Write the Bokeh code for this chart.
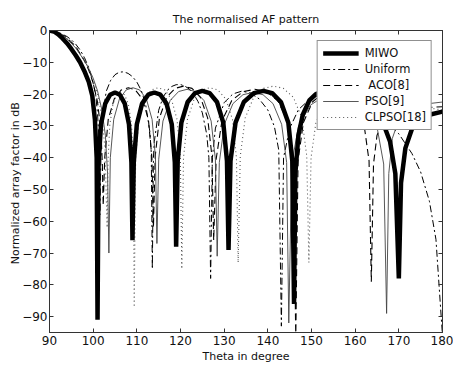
from bokeh.plotting import figure
from bokeh.models import (LinearAxis, Legend, LegendItem, FixedTicker, Range1d)
from bokeh.embed import file_html
from bokeh.resources import INLINE

# ---------------- data ----------------
x_ticks = [90, 100, 110, 120, 130, 140, 150, 160, 170, 180]
y_ticks = [0, -10, -20, -30, -40, -50, -60, -70, -80, -90]

miwo_theta = [90, 91, 92, 93, 94, 95, 96, 97, 98, 99, 99.8, 100.4, 100.8, 101,
              101.24, 101.8, 102.76, 103.88, 105, 106.12, 107.24, 108.2, 108.76, 109,
              109.3, 110, 111.2, 112.6, 114, 115.4, 116.8, 118, 118.7, 119,
              119.36, 120.2, 121.64, 123.32, 125, 126.68, 128.36, 129.8, 130.64, 131,
              131.45, 132.6, 134.5, 136.8, 139, 141, 143, 144.7, 145.6, 146,
              146.3, 147, 148, 149.5, 151, 153, 156, 159, 162, 164.5, 166.5, 168, 169.2, 170,
              170.5, 171.5, 173, 175, 177, 180]
miwo_db = [0, -0.3, -1.2, -2.5, -4, -5.8, -7.8, -10, -12.8, -16.2, -20.5, -28, -40, -91,
           -41.5, -29.5, -23, -20.2, -19.5, -20.2, -23, -29.5, -41.5, -66,
           -41.5, -29.5, -23, -20.2, -19.5, -20.2, -23, -29.5, -41.5, -68,
           -41, -29, -22.5, -19.7, -19, -19.7, -22.5, -29, -41, -69,
           -41, -29, -22.5, -19.7, -19, -19.7, -22.5, -29, -41, -86,
           -45, -33, -26.5, -22, -20, -19, -19.3, -20.5, -22.5, -25.5, -29.5, -35, -45, -78,
           -48, -37, -31, -28, -26.5, -25.5]

uniform_theta = [90, 92, 94, 95, 96, 97, 98, 99, 100, 100.6, 101, 101.3, 101.54,
                 101.8, 102, 103, 104, 105, 106, 107, 108, 109, 110, 111, 112, 113, 113.3, 113.55,
                 113.8, 114, 115, 116, 117, 118, 119, 120, 121, 122, 123, 124, 125, 126, 126.5, 126.9,
                 127.3, 128, 130, 132, 134, 136, 138, 140, 141.5, 142.5, 143.1,
                 143.6, 145, 147, 150, 154, 157, 160, 165, 170, 173, 175, 177, 178.5, 179.5, 180]
uniform_db = [0, -0.5, -1.9, -2.9, -4.3, -6.1, -8.5, -11.7, -16.5, -20.5, -26.2, -33.5, -58,
              -38, -28.3, -19.1, -15.7, -13.9, -13.1, -13, -13.5, -14.5, -16.2, -18.8, -23.1, -32, -38.4, -75,
              -40, -35, -25.1, -21, -18.8, -17.6, -17.05, -17, -17.5, -18.4, -20, -22.3, -25.9, -32.6, -40, -78,
              -40, -30.7, -22.7, -19.95, -19.1, -19.6, -21.5, -25, -30.2, -37.6, -93,
              -40, -30.8, -24.9, -21.1, -19.9, -20.4, -21.8, -25.8, -32.5, -38.7, -44.5, -53.7, -65.7, -86, -96]

aco_theta = [90, 92, 94, 96, 98, 99, 100, 101, 101.8, 102.1, 102.3,
             102.65, 103.45, 104.83, 106.44, 108.05, 109.66, 111.27, 112.65, 113.45, 113.8,
             114.21, 115.18, 116.84, 118.77, 120.7, 122.63, 124.56, 126.22, 127.19, 127.6,
             128.16, 129.48, 131.74, 134.37, 137, 139.63, 142.26, 144.52, 145.84, 146.4,
             146.92, 148.13, 150.21, 152.63, 155.05, 157.47, 159.89, 161.97, 163.18, 163.7,
             164.2, 165, 166.5, 168.5, 171, 175, 180]
aco_db = [0, -0.6, -2.3, -5, -9.5, -12.5, -16.5, -22.5, -32, -42, -55,
          -40, -28, -21.5, -18.7, -18, -18.7, -21.5, -28, -40, -62,
          -39.5, -27.5, -21, -18.2, -17.5, -18.2, -21, -27.5, -39.5, -66,
          -40.5, -28.5, -22, -19.2, -18.5, -19.2, -22, -28.5, -40.5, -97,
          -41, -29, -22.5, -19.7, -19, -19.7, -22.5, -29, -41, -79,
          -42, -33, -28, -26, -25, -24.3, -24]

pso_theta = [90, 92, 94, 96, 98, 99, 100, 101, 102, 102.8, 103.3, 103.6,
             103.93, 104.7, 106.02, 107.56, 109.1, 110.64, 112.18, 113.5, 114.27, 114.6,
             115.01, 115.98, 117.64, 119.57, 121.5, 123.43, 125.36, 127.02, 127.99, 128.4,
             128.89, 130.04, 132.01, 134.3, 136.6, 138.9, 141.19, 143.16, 144.31, 144.8,
             145.47, 147.04, 149.73, 152.86, 156, 159.14, 162.27, 164.96, 166.53, 167.2,
             167.7, 168.5, 170, 172, 175, 180]
pso_db = [0, -0.7, -2.6, -5.5, -9.5, -12, -15, -19, -25, -33, -45, -70,
          -40, -28, -21.5, -18.7, -18, -18.7, -21.5, -28, -40, -67,
          -40.5, -28.5, -22, -19.2, -18.5, -19.2, -22, -28.5, -40.5, -71,
          -41.5, -29.5, -23, -20.2, -19.5, -20.2, -23, -29.5, -41.5, -92,
          -42, -30, -23.5, -20.7, -20, -20.7, -23.5, -30, -42, -89,
          -45, -34, -28, -25, -23.3, -22.5]

clpso_theta = [90, 92, 94, 96, 98, 99, 100, 101, 102, 102.7, 103.2,
               103.39, 103.82, 104.56, 105.43, 106.3, 107.17, 108.04, 108.78, 109.21, 109.4,
               109.73, 110.49, 111.8, 113.32, 114.85, 116.38, 117.9, 119.21, 119.97, 120.3,
               120.69, 121.59, 123.14, 124.94, 126.75, 128.56, 130.36, 131.91, 132.81, 133.2,
               133.69, 134.82, 136.76, 139.03, 141.3, 143.57, 145.84, 147.78, 148.91, 149.4,
               149.9, 151, 153, 156, 160, 165, 170, 175, 180]
clpso_db = [0, -0.6, -2.4, -5.2, -9.3, -12, -15.5, -20, -27, -37, -62,
            -41.5, -29.5, -23, -20.2, -19.5, -20.2, -23, -29.5, -41.5, -87,
            -40, -28, -21.5, -18.7, -18, -18.7, -21.5, -28, -40, -75,
            -40, -28, -21.5, -18.7, -18, -18.7, -21.5, -28, -40, -73,
            -39.5, -27.5, -21, -18.2, -17.5, -18.2, -21, -27.5, -39.5, -73,
            -40, -29, -23, -20, -19.5, -20.5, -22.5, -24, -25]

# ---------------- figure ----------------
FONT = "DejaVu Sans"
p = figure(width=453, height=365, x_range=Range1d(90, 180), y_range=Range1d(-95, 0),
           output_backend="svg", toolbar_location=None,
           min_border_left=49, min_border_right=11, min_border_top=30, min_border_bottom=31,
           title="The normalised AF pattern")
p.title.align = "center"
p.title.text_font = FONT
p.title.text_font_size = "11px"
p.title.text_font_style = "normal"
p.title.text_color = "#111111"
p.xgrid.visible = False
p.ygrid.visible = False
p.outline_line_color = "#333333"
p.outline_line_width = 1
p.background_fill_color = "white"
p.border_fill_color = "white"


def style_axis(ax, ticks, show_labels=True):
    ax.ticker = FixedTicker(ticks=ticks)
    ax.major_tick_in = 4
    ax.major_tick_out = 0
    ax.minor_tick_in = 0
    ax.minor_tick_out = 0
    ax.axis_line_color = "#333333"
    ax.major_tick_line_color = "#333333"
    ax.major_label_text_font = FONT
    if show_labels:
        ax.major_label_text_color = "#111111"
        ax.major_label_text_font_size = "12px"
        ax.major_label_standoff = 3
    else:
        ax.major_label_text_color = None
        ax.major_label_text_font_size = "1px"
        ax.major_label_standoff = 0


style_axis(p.xaxis[0], x_ticks)
style_axis(p.yaxis[0], y_ticks)
p.yaxis[0].major_label_standoff = 2
p.xaxis[0].axis_label = "Theta in degree"
p.yaxis[0].axis_label = "Normalized array factor  in dB"
for ax in (p.xaxis[0], p.yaxis[0]):
    ax.axis_label_text_font = FONT
    ax.axis_label_text_font_size = "11px"
    ax.axis_label_text_font_style = "normal"
    ax.axis_label_text_color = "#111111"
p.xaxis[0].axis_label_standoff = 2
p.yaxis[0].axis_label_standoff = -3

top_ax = LinearAxis()
style_axis(top_ax, x_ticks, show_labels=False)
p.add_layout(top_ax, "above")
right_ax = LinearAxis()
style_axis(right_ax, y_ticks, show_labels=False)
p.add_layout(right_ax, "right")

r_uni = p.line(uniform_theta, uniform_db, line_color="black", line_width=1, line_dash="7 3 2 3")
r_aco = p.line(aco_theta, aco_db, line_color="black", line_width=1.1, line_dash="7 4")
r_pso = p.line(pso_theta, pso_db, line_color="#444444", line_width=0.9)
r_cl = p.line(clpso_theta, clpso_db, line_color="#555555", line_width=1.1, line_dash="1 3")
r_miwo = p.line(miwo_theta, miwo_db, line_color="black", line_width=4.5)

legend = Legend(items=[
    LegendItem(label="MIWO", renderers=[r_miwo]),
    LegendItem(label="Uniform", renderers=[r_uni]),
    LegendItem(label=" ACO[8]", renderers=[r_aco]),
    LegendItem(label="PSO[9]", renderers=[r_pso]),
    LegendItem(label="CLPSO[18]", renderers=[r_cl]),
], location="top_right")
legend.margin = 10
legend.padding = 5
legend.spacing = 2
legend.glyph_width = 36
legend.glyph_height = 14
legend.label_height = 14
legend.label_standoff = 6
legend.label_text_font = FONT
legend.label_text_font_size = "11.5px"
legend.label_text_color = "#111111"
legend.border_line_color = "#222222"
legend.border_line_width = 1
legend.background_fill_color = "white"
legend.background_fill_alpha = 1
p.add_layout(legend)

open("out.html", "w").write(file_html(p, INLINE))
